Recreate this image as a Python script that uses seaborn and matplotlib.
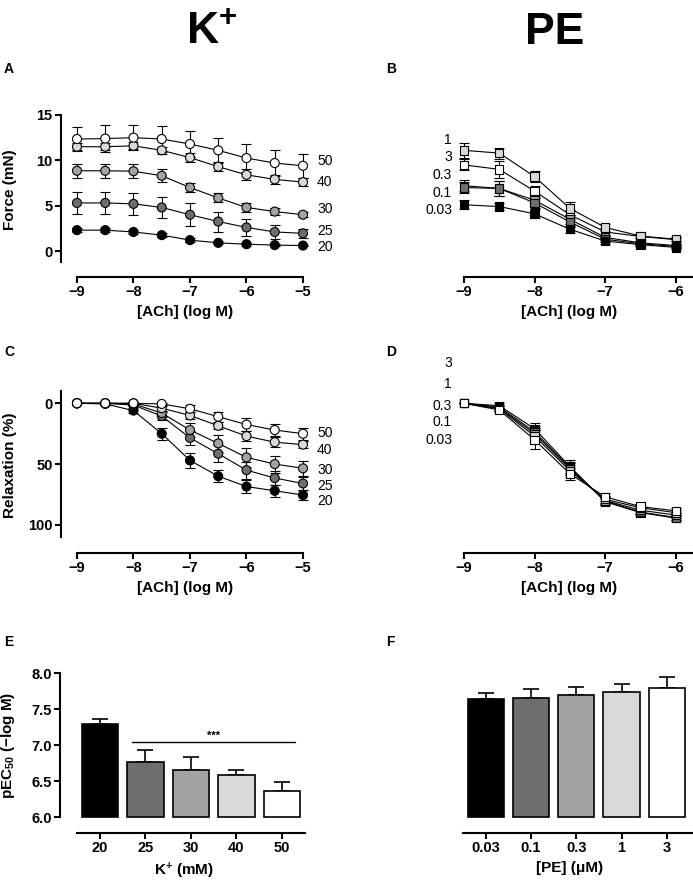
"""Кривые ACh для K+ и PE, панели A-F"""
import numpy as np
import pandas as pd
import matplotlib
matplotlib.use('Agg')
import matplotlib.pyplot as plt
import seaborn as sns

sns.set_style('ticks')
plt.rcParams['font.family'] = ['Liberation Sans', 'DejaVu Sans']
plt.rcParams['font.weight'] = 'bold'
plt.rcParams['axes.labelweight'] = 'bold'
plt.rcParams['text.color'] = 'black'
plt.rcParams['axes.labelcolor'] = 'black'
plt.rcParams['xtick.color'] = 'black'
plt.rcParams['ytick.color'] = 'black'
plt.rcParams['mathtext.fontset'] = 'custom'
plt.rcParams['mathtext.rm'] = 'Liberation Sans:bold'
plt.rcParams['mathtext.it'] = 'Liberation Sans:bold'
plt.rcParams['mathtext.bf'] = 'Liberation Sans:bold'
plt.rcParams['mathtext.default'] = 'rm'

# ---- данные ----
ach_k = [-9, -8.5, -8, -7.5, -7, -6.5, -6, -5.5, -5]
ach_pe = [-9, -8.5, -8, -7.5, -7, -6.5, -6]

k_conc = ['20', '25', '30', '40', '50']
pe_conc = ['0.03', '0.1', '0.3', '1', '3']

# A: сила (mN)
force_k = {
    '20': [2.3, 2.3, 2.1, 1.75, 1.2, 0.9, 0.75, 0.65, 0.6],
    '25': [5.3, 5.3, 5.2, 4.8, 4.0, 3.25, 2.6, 2.1, 1.95],
    '30': [8.85, 8.85, 8.8, 8.3, 7.0, 5.85, 4.8, 4.35, 4.0],
    '40': [11.5, 11.5, 11.6, 11.1, 10.3, 9.3, 8.4, 7.9, 7.6],
    '50': [12.35, 12.4, 12.5, 12.35, 11.8, 11.1, 10.25, 9.7, 9.4],
}
force_k_err = {
    '20': [0.2, 0.2, 0.2, 0.2, 0.2, 0.15, 0.15, 0.15, 0.1],
    '25': [1.2, 1.2, 1.25, 1.2, 1.25, 1.1, 0.9, 0.75, 0.5],
    '30': [0.8, 0.8, 0.8, 0.7, 0.5, 0.5, 0.5, 0.4, 0.3],
    '40': [0.4, 0.4, 0.4, 0.4, 0.5, 0.5, 0.6, 0.5, 0.4],
    '50': [1.3, 1.5, 1.4, 1.45, 1.4, 1.4, 1.5, 1.4, 1.35],
}

# B: сила (mN), PE
force_pe = {
    '0.03': [5.1, 4.9, 4.1, 2.4, 1.1, 0.7, 0.4],
    '0.1': [7.0, 6.9, 5.3, 3.2, 1.3, 0.8, 0.5],
    '0.3': [7.2, 6.9, 5.6, 3.5, 1.5, 0.9, 0.6],
    '1': [11.1, 10.8, 8.2, 4.7, 2.6, 1.65, 1.3],
    '3': [9.5, 9.0, 6.6, 4.0, 2.1, 1.6, 1.25],
}
force_pe_err = {
    '0.03': [0.5, 0.4, 0.5, 0.4, 0.3, 0.2, 0.2],
    '0.1': [0.6, 0.8, 0.6, 0.5, 0.3, 0.2, 0.2],
    '0.3': [0.6, 0.8, 0.6, 0.5, 0.3, 0.2, 0.2],
    '1': [0.85, 0.6, 0.6, 0.7, 0.4, 0.2, 0.2],
    '3': [0.6, 0.9, 0.6, 0.5, 0.4, 0.2, 0.2],
}

# C: релаксация (%)
relax_k = {
    '20': [0, 0.5, 6, 25, 47, 60, 68.5, 72, 75.5],
    '25': [0, 0, 1.5, 10.5, 28.5, 41.5, 55, 61.5, 66],
    '30': [0, 0, 0.5, 8, 22, 33, 44.5, 50, 53.5],
    '40': [0, 0, 0, 4, 10, 18.5, 27, 32, 34],
    '50': [0, 0, 0, 0.5, 4.5, 11, 17.5, 22, 25],
}
relax_k_err = {
    '20': [0, 1, 2, 5, 6, 5, 5, 5, 4],
    '25': [0, 0, 1, 3, 6, 7, 7, 6, 5],
    '30': [0, 0, 1, 3, 6, 7, 8, 7, 6],
    '40': [0, 0, 1, 2, 3, 3, 4, 4, 3],
    '50': [0, 0, 0, 1, 3, 4, 5, 5, 5],
}

# D: релаксация (%), PE
relax_pe = {
    '0.03': [0, 2, 21, 52, 81, 90, 94.5],
    '0.1': [0, 3, 23.5, 53, 80.5, 89.5, 94],
    '0.3': [0, 4, 25, 54, 80, 88, 92],
    '1': [0, 4.5, 27, 55.5, 79, 86, 90],
    '3': [0, 5.5, 30, 58, 77, 85, 88.5],
}
relax_pe_err = {
    '0.03': [0, 2, 4.5, 5, 3, 2, 2],
    '0.1': [0, 2, 5, 5, 3, 2, 2],
    '0.3': [0, 2, 5, 5, 3, 2, 2],
    '1': [0, 2, 5, 5, 3, 2, 2],
    '3': [0, 2, 8, 5, 3, 2, 2],
}

# E, F: pEC50
k_pec50 = [7.29, 6.77, 6.66, 6.58, 6.37]
k_pec50_err = [0.07, 0.16, 0.18, 0.08, 0.12]
pe_pec50 = [7.64, 7.66, 7.70, 7.74, 7.79]
pe_pec50_err = [0.08, 0.12, 0.11, 0.11, 0.16]

grays = ['#000000', '#6e6e6e', '#a3a3a3', '#d9d9d9', '#ffffff']
k_palette = dict(zip(k_conc, grays))
pe_palette = dict(zip(pe_conc, grays))

# ---- фигура ----
W, H = 693, 884
fig = plt.figure(figsize=(W / 100, H / 100), dpi=100)


def add_ax(l, t, r, b):
    return fig.add_axes([l / W, 1 - b / H, (r - l) / W, (b - t) / H])


def style_ax(ax, show_left=True):
    sns.despine(ax=ax)
    for s in ['left', 'bottom']:
        ax.spines[s].set_linewidth(1.5)
        ax.spines[s].set_color('black')
    ax.tick_params(direction='out', length=4, width=1.5, labelsize=10.5,
                   pad=2, colors='black')
    if not show_left:
        ax.spines['left'].set_visible(False)
        ax.tick_params(axis='y', left=False, labelleft=False)


def draw_curves(ax, x, means, errs, order, palette, marker, size):
    rows = []
    for c in order:
        ax.errorbar(x, means[c], yerr=errs[c], fmt='none', ecolor='black',
                    elinewidth=0.8, capsize=3.5, capthick=0.8, zorder=2)
        for xi, yi in zip(x, means[c]):
            rows.append({'log': xi, 'val': yi, 'conc': c})
    df = pd.DataFrame(rows)
    sns.lineplot(data=df, x='log', y='val', units='conc', estimator=None,
                 color='black', lw=0.8, ax=ax, zorder=1)
    sns.scatterplot(data=df, x='log', y='val', hue='conc', palette=palette,
                    marker=marker, s=size, edgecolor='black', linewidth=0.8,
                    legend=False, ax=ax, zorder=3, clip_on=False)
    ax.set_xlabel('')
    ax.set_ylabel('')


# A
axA = add_ax(61, 112, 310, 277)
draw_curves(axA, ach_k, force_k, force_k_err, k_conc, k_palette, 'o', 42)
axA.set_xlim(-9.283, -4.876)
axA.set_ylim(-2.867, 15.33)
axA.set_yticks([0, 5, 10, 15])
axA.set_xticks([-9, -8, -7, -6, -5])
style_ax(axA)
axA.spines['left'].set_bounds(-1.2, 15)
axA.spines['bottom'].set_bounds(-9, -5)
axA.set_ylabel('Force (mN)', fontsize=11)
axA.yaxis.set_label_coords(-0.175, 0.53)
axA.set_xlabel('[ACh] (log M)', fontsize=11, labelpad=4)
for c, yl in zip(k_conc, [0.45, 2.2, 4.6, 7.6, 9.9]):
    axA.text(-4.75, yl, c, fontsize=10, fontweight='normal', va='center', ha='left')

# B
axB = add_ax(446, 112, 693, 277)
draw_curves(axB, ach_pe, force_pe, force_pe_err, ['3', '1', '0.3', '0.1', '0.03'],
            pe_palette, 's', 36)
axB.set_xlim(-9.255, -5.756)
axB.set_ylim(-2.867, 15.33)
axB.set_xticks([-9, -8, -7, -6])
style_ax(axB, show_left=False)
axB.spines['bottom'].set_bounds(-9, -5.756)
axB.set_xlabel('[ACh] (log M)', fontsize=11, labelpad=4)
for c, yl in zip(pe_conc, [4.5, 6.4, 8.4, 12.2, 10.4]):
    axB.text(-9.17, yl, c, fontsize=10, fontweight='normal', va='center', ha='right')

# C
axC = add_ax(61, 388, 310, 553)
draw_curves(axC, ach_k, relax_k, relax_k_err, k_conc, k_palette, 'o', 42)
axC.set_xlim(-9.283, -4.876)
axC.set_ylim(123.2, -12.6)
axC.set_yticks([0, 50, 100])
axC.set_xticks([-9, -8, -7, -6, -5])
style_ax(axC)
axC.spines['left'].set_bounds(-10, 110)
axC.spines['bottom'].set_bounds(-9, -5)
axC.set_ylabel('Relaxation (%)', fontsize=11)
axC.yaxis.set_label_coords(-0.175, 0.53)
axC.set_xlabel('[ACh] (log M)', fontsize=11, labelpad=4)
for c, yl in zip(k_conc, [80.2, 68, 54.9, 38.4, 24.4]):
    axC.text(-4.75, yl, c, fontsize=10, fontweight='normal', va='center', ha='left')

# D
axD = add_ax(446, 388, 693, 553)
draw_curves(axD, ach_pe, relax_pe, relax_pe_err, ['0.03', '0.1', '0.3', '1', '3'],
            pe_palette, 's', 36)
axD.set_xlim(-9.255, -5.756)
axD.set_ylim(123.2, -12.6)
axD.set_xticks([-9, -8, -7, -6])
style_ax(axD, show_left=False)
axD.spines['bottom'].set_bounds(-9, -5.756)
axD.set_xlabel('[ACh] (log M)', fontsize=11, labelpad=4)
for c, yl in zip(pe_conc, [30, 15, 2, -16, -33]):
    axD.text(-9.17, yl, c, fontsize=10, fontweight='normal', va='center', ha='right')


def draw_bars(ax, cats, vals, errs, base):
    sns.barplot(x=cats, y=vals, hue=cats, palette=grays, legend=False,
                edgecolor='black', linewidth=1.2, width=0.8, ax=ax, zorder=2)
    for p in ax.patches:
        h = p.get_height()
        p.set_y(base)
        p.set_height(h - base)
    ax.errorbar(range(len(vals)), vals, yerr=[np.zeros(len(errs)), errs],
                fmt='none', ecolor='black', elinewidth=1.2, capsize=6,
                capthick=1.2, zorder=1)


# E
axE = add_ax(60, 671, 307, 833)
draw_bars(axE, k_conc, k_pec50, k_pec50_err, 6.0)
axE.set_xlim(-0.879, 4.55)
axE.set_ylim(5.78, 8.03)
axE.set_yticks([6.0, 6.5, 7.0, 7.5, 8.0])
axE.set_yticklabels(['6.0', '6.5', '7.0', '7.5', '8.0'])
style_ax(axE)
axE.spines['left'].set_bounds(6.0, 8.0)
axE.spines['bottom'].set_bounds(-0.5, 4.5)
axE.set_ylabel('pEC$_{50}$ (\u2212log M)', fontsize=11)
axE.yaxis.set_label_coords(-0.175, 0.54)
axE.set_xlabel(r'$\mathrm{K}^{+}$ (mM)', fontsize=11, labelpad=4)
axE.plot([0.7, 4.29], [7.05, 7.05], color='black', lw=1)
axE.text(2.49, 7.06, '***', fontsize=8, ha='center', va='bottom')

# F
axF = add_ax(446, 671, 693, 833)
draw_bars(axF, pe_conc, pe_pec50, pe_pec50_err, 6.0)
axF.set_xlim(-0.876, 4.576)
axF.set_ylim(5.78, 8.03)
style_ax(axF, show_left=False)
axF.spines['bottom'].set_bounds(-0.5, 4.576)
axF.set_xlabel('[PE] (\u03bcM)', fontsize=11, labelpad=4)

# подписи панелей и заголовки
for lab, (px, py) in zip('ABCDEF', [(4, 69), (386, 69), (4, 352), (386, 352),
                                     (4, 642), (386, 642)]):
    fig.text(px / W, 1 - py / H, lab, fontsize=10, fontweight='bold', va='center')
fig.text(212 / W, 1 - 32 / H, r'$\mathrm{K}^{+}$', fontsize=32, ha='center', va='center')
fig.text(555 / W, 1 - 32 / H, 'PE', fontsize=32, fontweight='bold',
         ha='center', va='center')

fig.savefig('out.png', dpi=100)
